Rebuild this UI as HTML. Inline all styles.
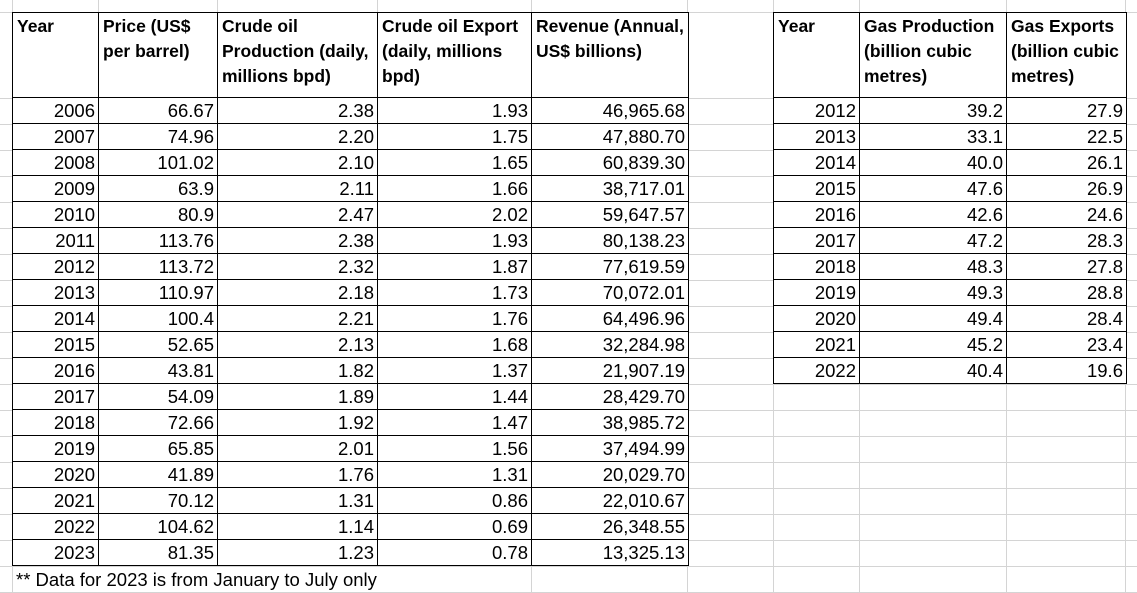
<!DOCTYPE html>
<html><head><meta charset="utf-8"><style>
html,body{margin:0;padding:0;background:#fff;width:1137px;height:593px;overflow:hidden;font-family:"Liberation Sans",Arial,sans-serif;}
svg.bg{position:absolute;left:0;top:0}
table{position:absolute;border-collapse:collapse;table-layout:fixed;background:#fff;font-size:18.5px;color:#000}
td{border:1px solid #000;padding:0 3px 0 4px;height:24px;line-height:25px;text-align:right;white-space:nowrap;overflow:hidden;vertical-align:bottom}
tr.h td{height:83px;text-align:left;vertical-align:top;font-weight:bold;line-height:25px;white-space:normal;padding-top:1px;font-size:17.5px}
.note{position:absolute;left:16px;top:567px;font-size:18.5px;line-height:26px;color:#000}
</style></head><body>
<svg class="bg" width="1137" height="593">
<g stroke="#d4d4d4" stroke-width="1">
<line x1="0" y1="12.5" x2="1137" y2="12.5"/>
<line x1="0" y1="98.5" x2="1137" y2="98.5"/>
<line x1="0" y1="124.5" x2="1137" y2="124.5"/><line x1="0" y1="150.5" x2="1137" y2="150.5"/><line x1="0" y1="176.5" x2="1137" y2="176.5"/><line x1="0" y1="202.5" x2="1137" y2="202.5"/><line x1="0" y1="228.5" x2="1137" y2="228.5"/><line x1="0" y1="254.5" x2="1137" y2="254.5"/><line x1="0" y1="280.5" x2="1137" y2="280.5"/><line x1="0" y1="306.5" x2="1137" y2="306.5"/><line x1="0" y1="332.5" x2="1137" y2="332.5"/><line x1="0" y1="358.5" x2="1137" y2="358.5"/><line x1="0" y1="384.5" x2="1137" y2="384.5"/><line x1="0" y1="410.5" x2="1137" y2="410.5"/><line x1="0" y1="436.5" x2="1137" y2="436.5"/><line x1="0" y1="462.5" x2="1137" y2="462.5"/><line x1="0" y1="488.5" x2="1137" y2="488.5"/><line x1="0" y1="514.5" x2="1137" y2="514.5"/><line x1="0" y1="540.5" x2="1137" y2="540.5"/><line x1="0" y1="566.5" x2="1137" y2="566.5"/><line x1="0" y1="592.5" x2="1137" y2="592.5"/>
<line x1="12.5" y1="0" x2="12.5" y2="593"/><line x1="98.5" y1="0" x2="98.5" y2="593"/><line x1="217.5" y1="0" x2="217.5" y2="593"/><line x1="377.5" y1="0" x2="377.5" y2="593"/><line x1="531.5" y1="0" x2="531.5" y2="593"/><line x1="687.5" y1="0" x2="687.5" y2="593"/><line x1="773.5" y1="0" x2="773.5" y2="593"/><line x1="859.5" y1="0" x2="859.5" y2="593"/><line x1="1006.5" y1="0" x2="1006.5" y2="593"/><line x1="1125.5" y1="0" x2="1125.5" y2="593"/>
</g>
<rect x="13" y="567" width="518" height="25" fill="#fff"/>
</svg>
<table style="left:12px;top:12px;width:676px">
<colgroup><col style="width:86px"><col style="width:119px"><col style="width:160px"><col style="width:154px"><col style="width:157px"></colgroup>
<tr class="h"><td>Year</td><td>Price (US$ per barrel)</td><td>Crude oil Production (daily, millions bpd)</td><td>Crude oil Export (daily, millions bpd)</td><td>Revenue (Annual, US$ billions)</td></tr>
<tr><td>2006</td><td>66.67</td><td>2.38</td><td>1.93</td><td>46,965.68</td></tr>
<tr><td>2007</td><td>74.96</td><td>2.20</td><td>1.75</td><td>47,880.70</td></tr>
<tr><td>2008</td><td>101.02</td><td>2.10</td><td>1.65</td><td>60,839.30</td></tr>
<tr><td>2009</td><td>63.9</td><td>2.11</td><td>1.66</td><td>38,717.01</td></tr>
<tr><td>2010</td><td>80.9</td><td>2.47</td><td>2.02</td><td>59,647.57</td></tr>
<tr><td>2011</td><td>113.76</td><td>2.38</td><td>1.93</td><td>80,138.23</td></tr>
<tr><td>2012</td><td>113.72</td><td>2.32</td><td>1.87</td><td>77,619.59</td></tr>
<tr><td>2013</td><td>110.97</td><td>2.18</td><td>1.73</td><td>70,072.01</td></tr>
<tr><td>2014</td><td>100.4</td><td>2.21</td><td>1.76</td><td>64,496.96</td></tr>
<tr><td>2015</td><td>52.65</td><td>2.13</td><td>1.68</td><td>32,284.98</td></tr>
<tr><td>2016</td><td>43.81</td><td>1.82</td><td>1.37</td><td>21,907.19</td></tr>
<tr><td>2017</td><td>54.09</td><td>1.89</td><td>1.44</td><td>28,429.70</td></tr>
<tr><td>2018</td><td>72.66</td><td>1.92</td><td>1.47</td><td>38,985.72</td></tr>
<tr><td>2019</td><td>65.85</td><td>2.01</td><td>1.56</td><td>37,494.99</td></tr>
<tr><td>2020</td><td>41.89</td><td>1.76</td><td>1.31</td><td>20,029.70</td></tr>
<tr><td>2021</td><td>70.12</td><td>1.31</td><td>0.86</td><td>22,010.67</td></tr>
<tr><td>2022</td><td>104.62</td><td>1.14</td><td>0.69</td><td>26,348.55</td></tr>
<tr><td>2023</td><td>81.35</td><td>1.23</td><td>0.78</td><td>13,325.13</td></tr>
</table>
<table style="left:773px;top:12px;width:353px">
<colgroup><col style="width:86px"><col style="width:147px"><col style="width:120px"></colgroup>
<tr class="h"><td>Year</td><td>Gas Production (billion cubic metres)</td><td>Gas Exports (billion cubic metres)</td></tr>
<tr><td>2012</td><td>39.2</td><td>27.9</td></tr>
<tr><td>2013</td><td>33.1</td><td>22.5</td></tr>
<tr><td>2014</td><td>40.0</td><td>26.1</td></tr>
<tr><td>2015</td><td>47.6</td><td>26.9</td></tr>
<tr><td>2016</td><td>42.6</td><td>24.6</td></tr>
<tr><td>2017</td><td>47.2</td><td>28.3</td></tr>
<tr><td>2018</td><td>48.3</td><td>27.8</td></tr>
<tr><td>2019</td><td>49.3</td><td>28.8</td></tr>
<tr><td>2020</td><td>49.4</td><td>28.4</td></tr>
<tr><td>2021</td><td>45.2</td><td>23.4</td></tr>
<tr><td>2022</td><td>40.4</td><td>19.6</td></tr>
</table>
<div class="note">** Data for 2023 is from January to July only</div>
</body></html>
